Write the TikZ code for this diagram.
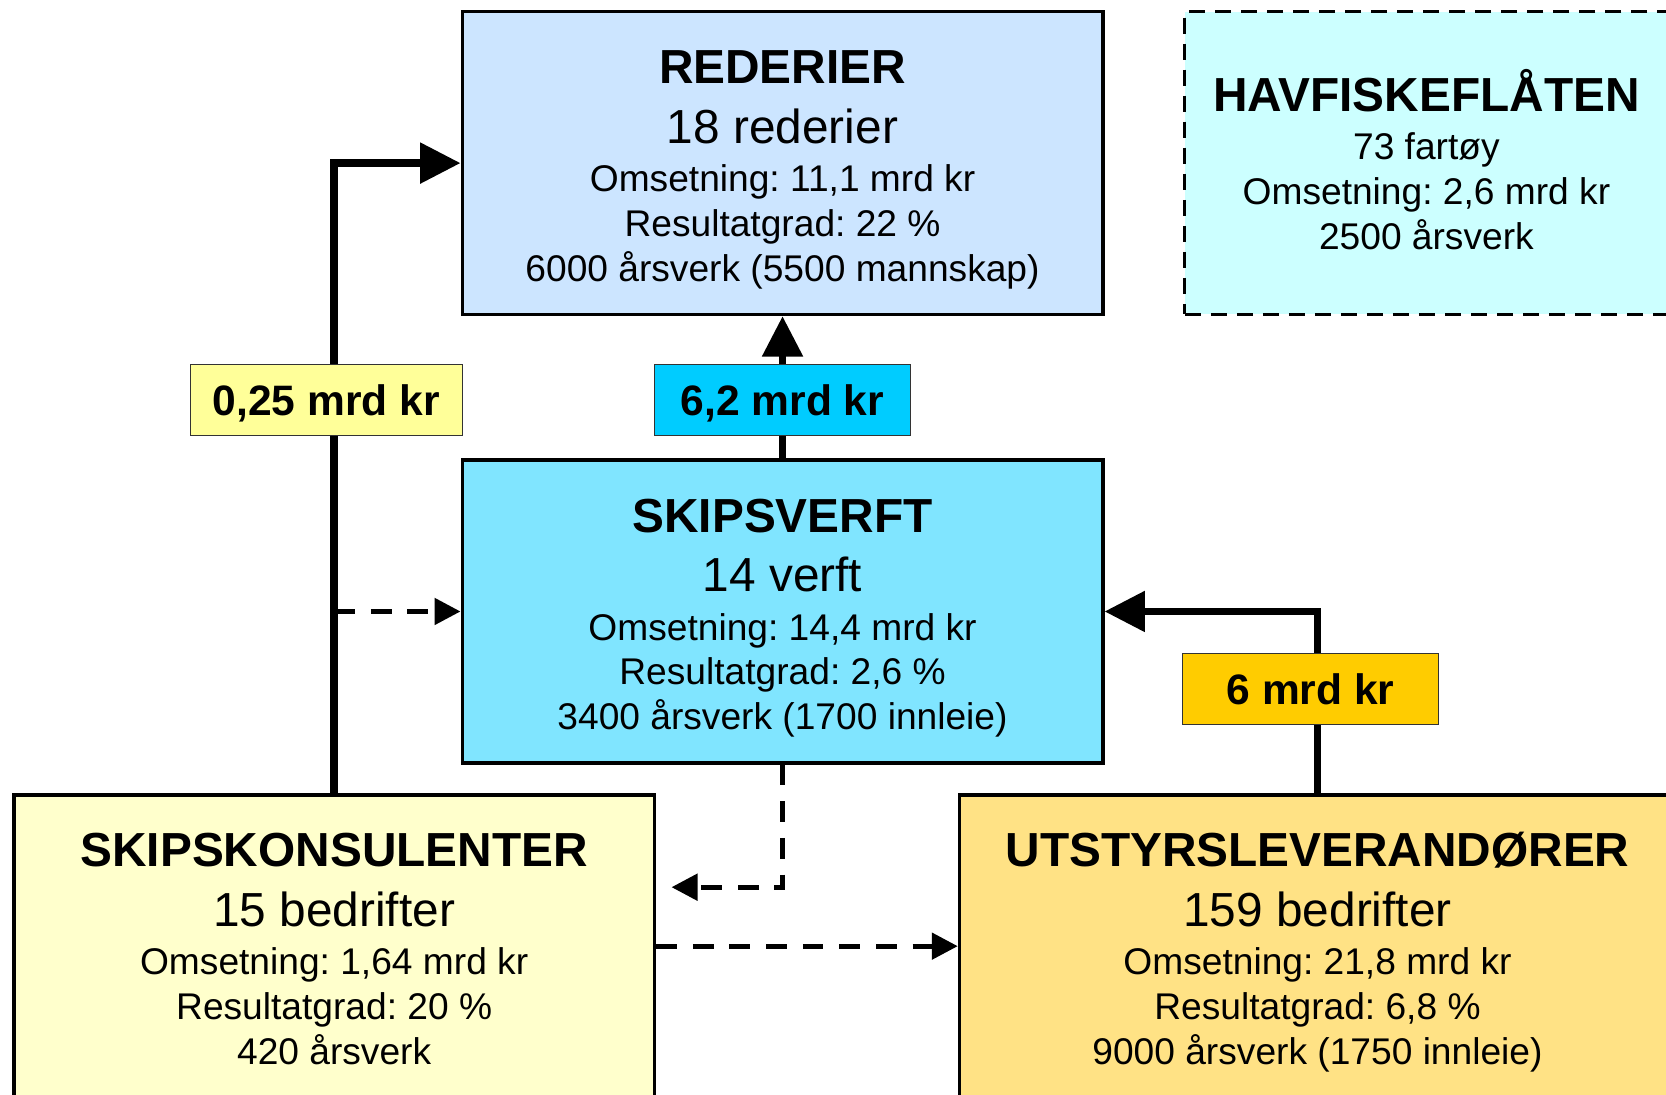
\documentclass[tikz,border=0pt]{standalone}
\usepackage{fontspec}
\setmainfont{Liberation Sans}
\usetikzlibrary{arrows.meta}

\definecolor{rederifarge}{HTML}{CCE5FF}
\definecolor{havfiskefarge}{HTML}{CCFFFF}
\definecolor{verftfarge}{HTML}{80E5FF}
\definecolor{konsulentfarge}{HTML}{FFFFCC}
\definecolor{utstyrfarge}{HTML}{FFE285}
\definecolor{gulbelop}{HTML}{FFFF99}
\definecolor{blabelop}{HTML}{00CCFF}
\definecolor{gullbelop}{HTML}{FFCC00}

\tikzset{
  firma/.style={draw, line width=1.85pt, minimum height=5.7cm, inner sep=0pt, align=center, font=\fontsize{19.9}{23.9}\selectfont},
  belop/.style={draw=black!80, line width=0.7pt, minimum height=1.34cm, inner sep=0pt, text depth=0pt, font=\fontsize{22.8}{27}\selectfont\bfseries},
  flyt/.style={line width=4pt, -{Triangle[length=0.76cm,width=0.74cm]}},
  stipl/.style={line width=2.7pt, dash pattern=on 0.39cm off 0.3cm, -{Triangle[length=0.49cm,width=0.49cm]}}
}
\newcommand{\navn}[1]{{\fontsize{25.6}{30}\selectfont\bfseries\rule{0pt}{25pt}#1}}
\newcommand{\antall}[1]{{\fontsize{25.6}{30}\selectfont #1}}
\newcommand{\bunn}{\rule[-4.3pt]{0pt}{4.3pt}}

\begin{document}
\frenchspacing
\begin{tikzpicture}[x=0.02cm, y=-0.02cm]
\useasboundingbox (0,0) rectangle (1568,1030);
\clip (0,0) rectangle (1568,1030);

\node[firma, fill=rederifarge, minimum width=12.06cm] (rederier) at (736.5,153.5)
  {\navn{REDERIER}\\[8pt] \antall{18 rederier}\\[2.1pt] Omsetning: 11,1 mrd kr\\ Resultatgrad: 22 \%\\ 6000 årsverk (5500 mannskap)\bunn};
\node[firma, fill=havfiskefarge, line width=1.7pt, dash pattern=on 0.3cm off 0.19cm, minimum width=9.1cm] (havfiske) at (1342.5,153.5)
  {{\fontsize{25.6}{30}\selectfont\bfseries HAVFISKEFLÅTEN}\\[2.1pt] 73 fartøy\\ Omsetning: 2,6 mrd kr\\ 2500 årsverk\bunn};
\node[firma, fill=verftfarge, minimum width=12.06cm] (verft) at (736.5,575.5)
  {\navn{SKIPSVERFT}\\[8pt] \antall{14 verft}\\[2.1pt] Omsetning: 14,4 mrd kr\\ Resultatgrad: 2,6 \%\\ 3400 årsverk (1700 innleie)\bunn};
\node[firma, fill=konsulentfarge, minimum width=12.06cm] (konsulent) at (314.5,890.5)
  {\navn{SKIPSKONSULENTER}\\[8pt] \antall{15 bedrifter}\\[2.1pt] Omsetning: 1,64 mrd kr\\ Resultatgrad: 20 \%\\ 420 årsverk\bunn};
\node[firma, fill=utstyrfarge, minimum width=13.48cm] (utstyr) at (1240,890.5)
  {\navn{UTSTYRSLEVERANDØRER}\\[8pt] \antall{159 bedrifter}\\[2.1pt] Omsetning: 21,8 mrd kr\\ Resultatgrad: 6,8 \%\\ 9000 årsverk (1750 innleie)\bunn};

\draw[flyt] (konsulent.north) |- (rederier.west);
\coordinate (grein) at (konsulent.north |- verft.west);
\draw[stipl] (grein) -- (verft.west);
\draw[flyt] (verft.north) -- (rederier.south);
\draw[flyt] (utstyr.north) |- (verft.east);
\coordinate (pilende) at (632,835);
\draw[stipl] (verft.south) |- (pilende);
\draw[stipl] (konsulent.east) -- (utstyr.west);

\node[belop, fill=gulbelop, minimum width=5.12cm] (b025) at (307,376.5) {0,25 mrd kr};
\node[belop, fill=blabelop, minimum width=4.82cm] (b62) at (736.5,376.5) {6,2 mrd kr};
\node[belop, fill=gullbelop, minimum width=4.82cm] (b6) at (1233.5,648.5) {6 mrd kr};
\end{tikzpicture}
\end{document}
